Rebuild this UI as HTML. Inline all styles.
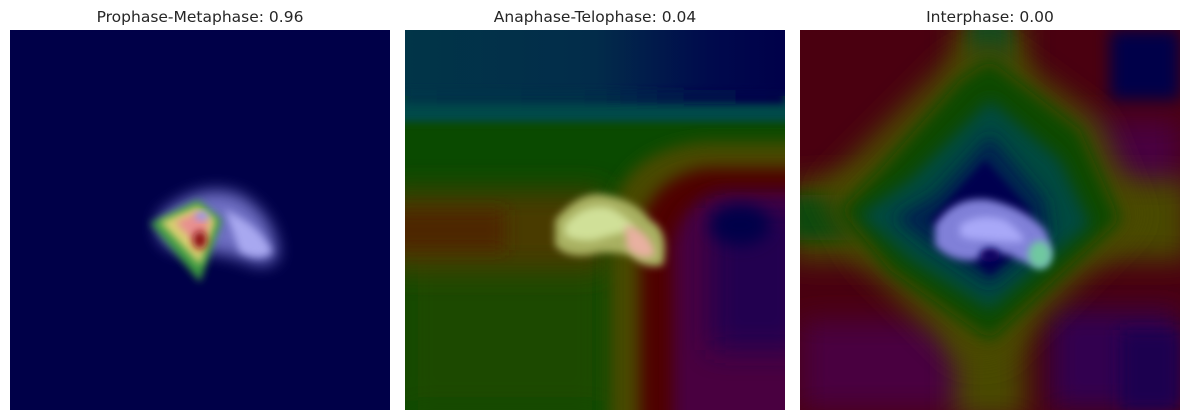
<!DOCTYPE html>
<html><head><meta charset="utf-8"><style>
body{margin:0;background:#fff;width:1189px;height:420px;overflow:hidden;font-family:"DejaVu Sans","Liberation Sans",sans-serif}
svg{display:block}
</style></head><body>
<svg width="1189" height="420" viewBox="0 0 1189 420" font-family="DejaVu Sans, Liberation Sans, sans-serif">
<defs>
<filter id="b4" x="-50%" y="-50%" width="200%" height="200%"><feGaussianBlur stdDeviation="4"/></filter>
<filter id="b8" x="-50%" y="-50%" width="200%" height="200%"><feGaussianBlur stdDeviation="8"/></filter>
<filter id="b14" x="-50%" y="-50%" width="200%" height="200%"><feGaussianBlur stdDeviation="14"/></filter>
<clipPath id="c"><rect x="0" y="0" width="380" height="380"/></clipPath>
<linearGradient id="topg" x1="0" x2="1"><stop offset="0" stop-color="#013548"/><stop offset="0.5" stop-color="#022c4a"/><stop offset="0.8" stop-color="#000a4c"/><stop offset="1" stop-color="#00004a"/></linearGradient>
</defs>

<!-- Panel 1 -->
<text x="200" y="22" text-anchor="middle" font-size="15.5" fill="#262626">Prophase-Metaphase: 0.96</text>
<g transform="translate(10,30)" clip-path="url(#c)">
<rect width="380" height="380" fill="#000048"/>
<path d="M150 185 Q190 150 230 165 Q265 185 268 225 Q260 240 240 232 Q210 220 175 222 Q140 215 150 185Z" fill="#7a7ad0" filter="url(#b8)" opacity="0.9"/>
<path d="M215 180 Q250 195 262 222 Q250 232 230 222Z" fill="#a8a8f0" filter="url(#b4)"/>
<polygon points="140,193 188,170 212,190 190,252" fill="#3a9a40" filter="url(#b4)"/>
<polygon points="150,192 188,176 206,190 190,235" fill="#d8d070" filter="url(#b4)"/>
<polygon points="165,192 188,182 200,192 190,218" fill="#e89090" filter="url(#b4)"/>
<ellipse cx="190" cy="210" rx="7" ry="9" fill="#8a1010" filter="url(#b4)"/>
<ellipse cx="192" cy="186" rx="7" ry="4" fill="#9090ff" filter="url(#b4)"/>
</g>

<!-- Panel 2 -->
<text x="595" y="22" text-anchor="middle" font-size="15.5" fill="#262626">Anaphase-Telophase: 0.04</text>
<g transform="translate(405,30)" clip-path="url(#c)">
<rect width="380" height="380" fill="#0a4a00"/>
<rect x="0" y="210" width="200" height="170" fill="#1c4a00" filter="url(#b14)"/>
<rect x="-20" y="160" width="220" height="80" fill="#4a3a00" filter="url(#b14)"/>
<rect x="-20" y="180" width="120" height="40" fill="#4e2800" filter="url(#b8)"/>
<path d="M205 400 L205 190 Q215 120 300 112 L400 112 L400 400Z" fill="#4a4a00" filter="url(#b8)"/>
<path d="M235 400 L235 200 Q245 148 300 138 L400 138 L400 400Z" fill="#500000" filter="url(#b8)"/>
<path d="M268 400 L268 215 Q278 168 320 162 L400 162 L400 400Z" fill="#4a0040" filter="url(#b8)"/>
<path d="M305 320 L305 178 L400 178 L400 320Z" fill="#200050" filter="url(#b14)"/>
<ellipse cx="335" cy="195" rx="30" ry="20" fill="#00004a" filter="url(#b8)"/>
<rect x="0" y="0" width="380" height="66" fill="url(#topg)"/>
<rect x="-10" y="66" width="400" height="26" fill="#024848" filter="url(#b4)"/>
<rect x="0" y="60" width="380" height="14" fill="url(#topg)" filter="url(#b4)"/>
<path d="M150 190 Q175 160 200 165 Q230 170 245 190 Q265 200 258 235 Q240 240 225 225 Q200 220 185 225 Q160 228 150 215Z" fill="#a8b060" filter="url(#b4)"/>
<path d="M160 195 Q180 172 205 178 Q225 188 230 200 Q205 205 190 210 Q170 212 160 205Z" fill="#d0e098" filter="url(#b4)"/>
<path d="M220 195 Q245 200 250 225 Q235 232 222 218Z" fill="#e8b0a0" filter="url(#b4)"/>
</g>

<!-- Panel 3 -->
<text x="990" y="22" text-anchor="middle" font-size="15.5" fill="#262626">Interphase: 0.00</text>
<g transform="translate(800,30)" clip-path="url(#c)">
<rect width="380" height="380" fill="#4a0010"/>
<rect x="0" y="290" width="190" height="90" fill="#4a0040" filter="url(#b14)"/>
<rect x="260" y="90" width="120" height="80" fill="#480040" filter="url(#b14)"/>
<rect x="250" y="280" width="130" height="100" fill="#300050" filter="url(#b14)"/>
<rect x="310" y="0" width="70" height="70" fill="#000048" filter="url(#b8)"/>
<rect x="320" y="300" width="60" height="80" fill="#1a0050" filter="url(#b8)"/>
<rect x="155" y="-10" width="70" height="400" fill="#4a4a00" filter="url(#b14)"/>
<rect x="-10" y="150" width="400" height="80" fill="#4a4a00" filter="url(#b14)"/>
<rect x="-10" y="165" width="120" height="45" fill="#0a4a10" filter="url(#b8)"/>
<rect x="170" y="-10" width="40" height="100" fill="#0a4a20" filter="url(#b8)"/>
<polygon points="190,10 300,90 340,190 200,330 160,330 60,230 20,160 60,120 150,30" fill="#4a4a00" filter="url(#b14)"/>
<polygon points="190,30 280,100 320,190 190,310 90,240 40,180 80,140 160,50" fill="#0a4a00" filter="url(#b8)"/>
<polygon points="190,70 260,130 290,195 190,280 110,230 60,185 110,150 170,90" fill="#024a40" filter="url(#b8)"/>
<polygon points="190,105 245,170 250,205 190,255 130,215 95,188 135,165" fill="#002050" filter="url(#b8)"/>
<polygon points="185,130 230,180 230,210 190,245 150,210 130,190" fill="#000050" filter="url(#b4)"/>
<path d="M135 195 Q155 165 190 170 Q225 178 245 200 Q255 220 245 235 Q225 235 210 225 Q190 220 175 230 Q150 232 135 215Z" fill="#8080d8" filter="url(#b4)"/>
<path d="M160 195 Q180 182 205 190 Q220 200 225 212 Q200 212 185 210 Q165 210 160 205Z" fill="#a8a8f8" filter="url(#b4)"/>
<ellipse cx="240" cy="225" rx="12" ry="14" fill="#70c8a0" filter="url(#b4)"/>
<ellipse cx="190" cy="225" rx="10" ry="7" fill="#100060" filter="url(#b4)"/>
</g>
</svg>
</body></html>
